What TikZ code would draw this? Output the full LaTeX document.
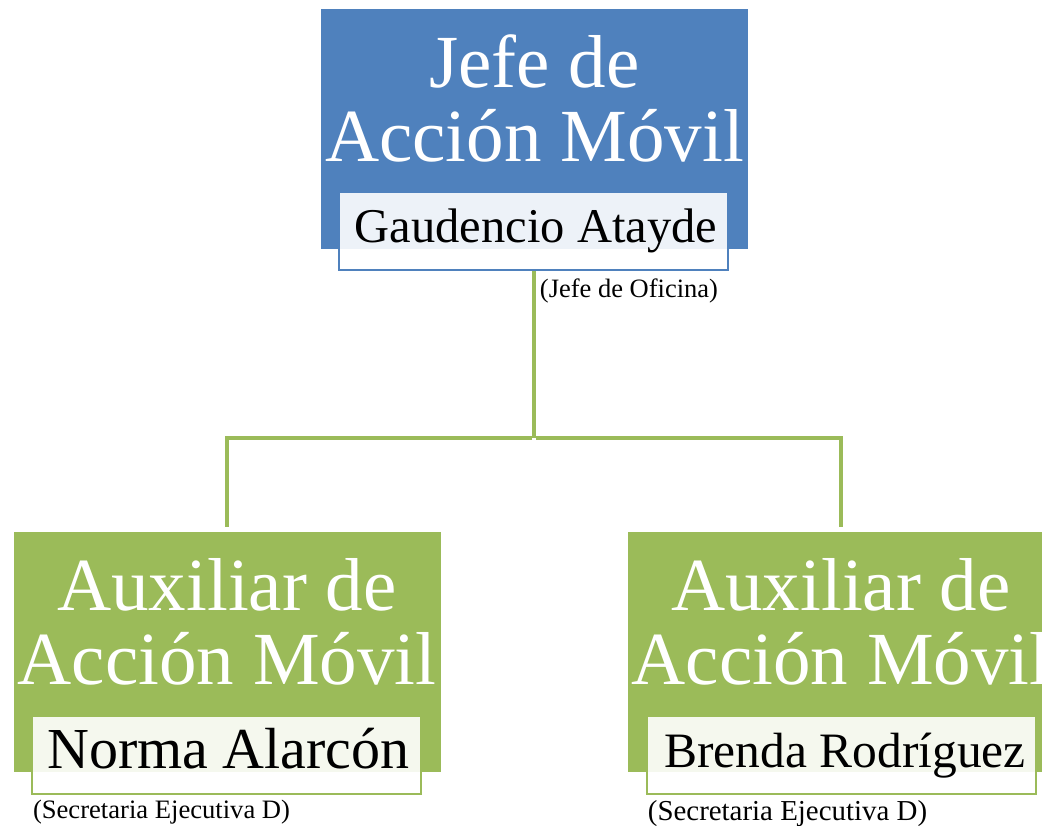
\documentclass[tikz,border=0pt]{standalone}
\usepackage{fontspec}
\setmainfont{Liberation Serif}
\definecolor{boxblue}{HTML}{4F81BD}
\definecolor{boxgreen}{HTML}{9BBB59}
\tikzset{
  mainbox/.style={rectangle, inner sep=0pt, minimum width=427pt, minimum height=240pt, draw=none},
  namebox/.style={rectangle, inner sep=0pt, minimum width=389pt, minimum height=78pt, line width=2pt, fill=white, fill opacity=0.9, draw opacity=1},
  titletext/.style={text=white, align=center, inner sep=0pt, anchor=base, font=\fontsize{75}{74}\selectfont},
  nametext/.style={text=black, inner sep=0pt, anchor=base},
  roletext/.style={text=black, inner sep=0pt, anchor=base},
  conn/.style={draw=boxgreen, line width=4pt}
}
\begin{document}
\begin{tikzpicture}[x=1pt,y=-1pt]
\useasboundingbox (0,0) rectangle (1042,826);
% top
\node[mainbox, fill=boxblue] (jefe) at (534.5,129) {};
\node[titletext] (jefeT) at (534.5,162) {Jefe de\\Acción Móvil};
\node[namebox, draw=boxblue] (jefeN) at (533,231) {};
\node[nametext, font=\fontsize{48.5}{50}\selectfont] (jefeNT) at (536,243) {Gaudencio Atayde};
\node[roletext, font=\fontsize{26.5}{28}\selectfont] (jefeR) at (629,298) {(Jefe de Oficina)};
% left
\node[mainbox, fill=boxgreen] (aux1) at (227,652) {};
\node[titletext] (aux1T) at (227,684) {Auxiliar de\\Acción Móvil};
\node[namebox, draw=boxgreen] (aux1N) at (226,755) {};
\node[nametext, font=\fontsize{58}{60}\selectfont] (aux1NT) at (228.5,768) {Norma Alarcón};
\node[roletext, font=\fontsize{26.6}{28}\selectfont] (aux1R) at (161.5,818) {(Secretaria Ejecutiva D)};
% right
\node[mainbox, fill=boxgreen] (aux2) at (841,652) {};
\node[titletext] (aux2T) at (841,684) {Auxiliar de\\Acción Móvil};
\node[namebox, draw=boxgreen] (aux2N) at (841,755) {};
\node[nametext, font=\fontsize{49.5}{50}\selectfont] (aux2NT) at (845,767) {Brenda Rodríguez};
\node[roletext, font=\fontsize{28.9}{30}\selectfont] (aux2R) at (787.5,820) {(Secretaria Ejecutiva D)};
% connectors
\coordinate (hub) at (534,438);
\draw[conn] ([xshift=1pt]jefeN.south) -- (hub);
\draw[conn, shorten >=5pt] ([xshift=-2pt]hub) -| (aux1.north);
\draw[conn, shorten >=5pt] ([xshift=2pt]hub) -| (aux2.north);
\end{tikzpicture}
\end{document}
